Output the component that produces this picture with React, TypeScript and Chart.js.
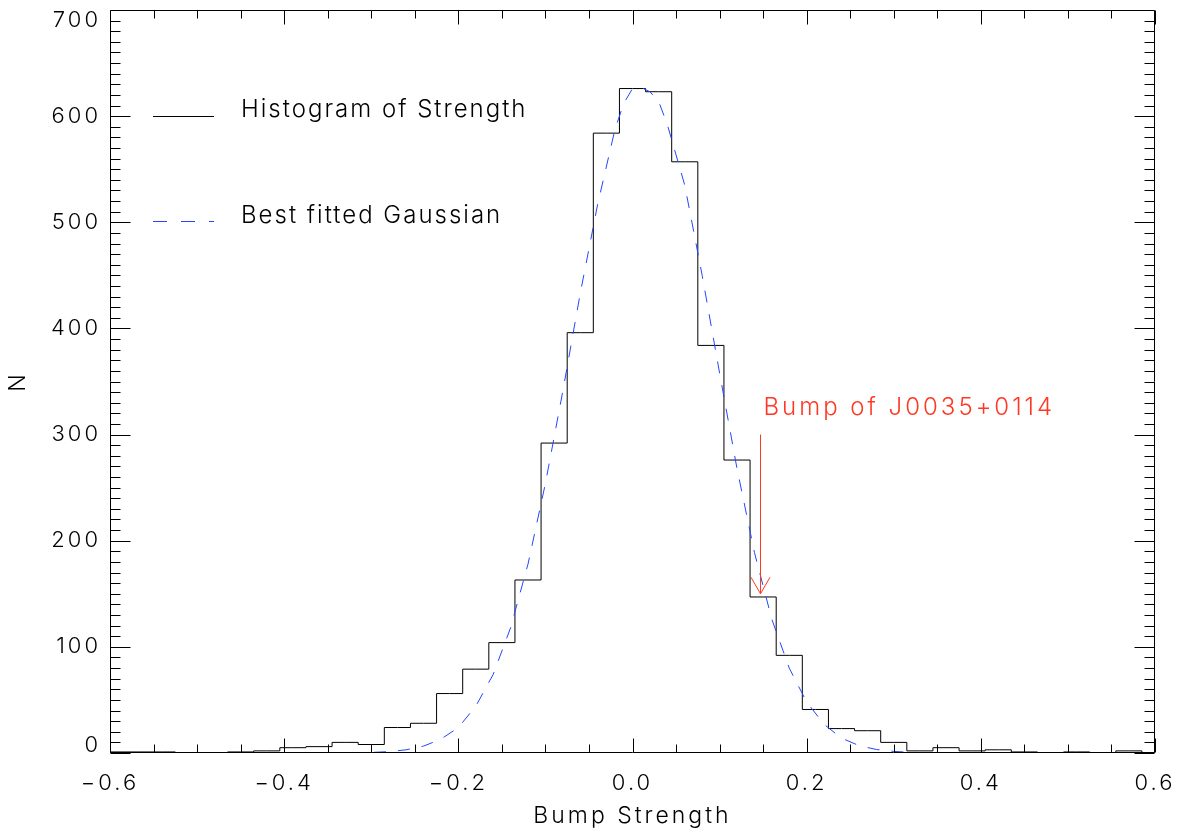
import React, { useEffect, useRef } from 'react';
import { Chart, registerables } from 'chart.js';

Chart.register(...registerables);

// Histogram bin centres (bin width 0.03) and counts
const binCenters = [
  -0.60, -0.57, -0.54, -0.51, -0.48, -0.45, -0.42, -0.39, -0.36, -0.33,
  -0.30, -0.27, -0.24, -0.21, -0.18, -0.15, -0.12, -0.09, -0.06, -0.03,
  0.00, 0.03, 0.06, 0.09, 0.12, 0.15, 0.18, 0.21, 0.24, 0.27,
  0.30, 0.33, 0.36, 0.39, 0.42, 0.45, 0.48, 0.51, 0.54, 0.57, 0.60,
];
const binCounts = [
  1, 1, 1, 0, 0, 1, 2, 5, 6, 10,
  8, 24, 28, 56, 79, 104, 163, 292, 396, 584,
  626, 623, 557, 384, 276, 147, 92, 41, 23, 21,
  10, 2, 5, 2, 3, 1, 0, 1, 0, 2, 0,
];

// Best fitted Gaussian
const gaussX = [
  -0.60, -0.40, -0.32, -0.30, -0.28, -0.26, -0.24, -0.22, -0.20, -0.18,
  -0.16, -0.14, -0.12, -0.10, -0.08, -0.06, -0.04, -0.02, -0.01, 0.00,
  0.01, 0.02, 0.03, 0.04, 0.06, 0.08, 0.10, 0.12, 0.14, 0.16,
  0.18, 0.20, 0.22, 0.24, 0.26, 0.28, 0.30, 0.32, 0.34, 0.40, 0.60,
];
const gaussY = [
  0, 0, 0.3, 0.5, 1.3, 3, 6.5, 13, 24, 44,
  74, 118, 178, 254, 341, 433, 517, 588, 612, 626,
  627, 623, 614, 592, 535, 450, 358, 268, 189, 126,
  80, 48, 27, 14, 7, 3.3, 1.5, 0.6, 0.3, 0, 0,
];

const xTickLabels = ['−0.6', '−0.4', '−0.2', '0.0', '0.2', '0.4', '0.6'];
const yTickValues = [0, 100, 200, 300, 400, 500, 600, 700];
const yTickLabels = ['0', '100', '200', '300', '400', '500', '600', '700'];

const legendLabels = ['Histogram of Strength', 'Best fitted Gaussian'];
const annotationText = 'Bump of J0035+0114';
const annotationX = 0.146;
const annotationYTop = 300;
const annotationYTip = 150;
const xTitle = 'Bump Strength';
const yTitle = 'N';

const FONT_FAMILY = 'Inter, "DejaVu Sans", sans-serif';
const BLUE = 'rgb(35,70,255)';
const RED = 'rgb(255,55,35)';

const overlayPlugin = {
  id: 'overlay',
  beforeDraw(chart: any) {
    (chart.ctx as any).letterSpacing = '3px';
  },
  afterDraw(chart: any) {
    const { ctx, chartArea: a, scales } = chart;
    const x = scales.x;
    const y = scales.y;
    ctx.save();
    (ctx as any).letterSpacing = '3px';
    ctx.strokeStyle = '#000';
    ctx.lineWidth = 1;
    ctx.setLineDash([]);
    const L = Math.round(a.left) + 0.5;
    const R = Math.round(a.right) - 0.5;
    const T = Math.round(a.top) + 0.5;
    const B = Math.round(a.bottom) - 0.5;
    ctx.beginPath();
    ctx.moveTo(L, T);
    ctx.lineTo(R, T);
    ctx.lineTo(R, B);
    ctx.lineTo(L, B);
    ctx.closePath();
    // x ticks (major 0.2, minor 0.05)
    for (let i = -12; i <= 12; i++) {
      const px = Math.round(x.getPixelForValue(i * 0.05)) + 0.5;
      const len = i % 4 === 0 ? 14 : 8;
      ctx.moveTo(px, B);
      ctx.lineTo(px, B - len);
      ctx.moveTo(px, T);
      ctx.lineTo(px, T + len);
    }
    // y ticks (major 100, minor 10)
    for (let i = 0; i <= 70; i++) {
      const py = Math.round(y.getPixelForValue(i * 10)) + 0.5;
      const len = i % 10 === 0 ? 20 : 10;
      ctx.moveTo(L, py);
      ctx.lineTo(L + len, py);
      ctx.moveTo(R, py);
      ctx.lineTo(R - len, py);
    }
    ctx.stroke();

    // y tick labels (end labels kept inside the frame, as in the original)
    ctx.fillStyle = '#000';
    ctx.font = `300 22px ${FONT_FAMILY}`;
    ctx.textAlign = 'right';
    ctx.textBaseline = 'middle';
    yTickValues.forEach((v, i) => {
      const py = Math.min(Math.max(y.getPixelForValue(v), a.top + 10), a.bottom - 8);
      ctx.fillText(yTickLabels[i], a.left - 9, py);
    });

    // legend
    (ctx as any).letterSpacing = '2px';
    ctx.font = `300 24px ${FONT_FAMILY}`;
    ctx.textAlign = 'left';
    ctx.textBaseline = 'alphabetic';
    ctx.beginPath();
    ctx.moveTo(153, 116.5);
    ctx.lineTo(214, 116.5);
    ctx.stroke();
    ctx.fillText(legendLabels[0], 241, 117);
    ctx.strokeStyle = BLUE;
    ctx.setLineDash([14, 14]);
    ctx.beginPath();
    ctx.moveTo(153, 221.5);
    ctx.lineTo(214, 221.5);
    ctx.stroke();
    ctx.setLineDash([]);
    ctx.fillText(legendLabels[1], 241, 223);

    // annotation arrow
    (ctx as any).letterSpacing = '3px';
    const ax = Math.round(x.getPixelForValue(annotationX)) + 0.5;
    const aTop = y.getPixelForValue(annotationYTop);
    const aTip = y.getPixelForValue(annotationYTip);
    ctx.strokeStyle = RED;
    ctx.fillStyle = RED;
    ctx.beginPath();
    ctx.moveTo(ax, aTop);
    ctx.lineTo(ax, aTip);
    ctx.moveTo(ax - 9.5, aTip - 16.5);
    ctx.lineTo(ax, aTip);
    ctx.lineTo(ax + 9.5, aTip - 16.5);
    ctx.stroke();
    ctx.fillText(annotationText, ax + 3, aTop - 20);

    // axis titles
    ctx.fillStyle = '#000';
    ctx.font = `300 23px ${FONT_FAMILY}`;
    ctx.textAlign = 'center';
    ctx.fillText(xTitle, (a.left + a.right) / 2, 823);
    ctx.translate(25, (a.top + a.bottom) / 2);
    ctx.rotate(-Math.PI / 2);
    ctx.fillText(yTitle, 0, 0);
    ctx.restore();
  },
};

export default function App() {
  const canvasRef = useRef<HTMLCanvasElement | null>(null);

  useEffect(() => {
    const canvas = canvasRef.current;
    if (!canvas) return;
    const chart = new Chart(canvas, {
      type: 'line',
      data: {
        datasets: [
          {
            label: legendLabels[1],
            data: gaussX.map((v, i) => ({ x: v, y: gaussY[i] })),
            borderColor: BLUE,
            borderWidth: 1,
            borderDash: [12, 12],
            pointRadius: 0,
            tension: 0,
            fill: false,
          },
          {
            label: legendLabels[0],
            data: binCenters.map((v, i) => ({ x: v, y: binCounts[i] })),
            borderColor: '#000',
            borderWidth: 1,
            stepped: 'middle',
            pointRadius: 0,
            fill: false,
          },
        ],
      },
      options: {
        responsive: false,
        animation: false,
        events: [],
        layout: { padding: { top: 10, right: 36, left: 0, bottom: 0 } },
        plugins: {
          legend: { display: false },
          tooltip: { enabled: false },
          title: { display: false },
        },
        scales: {
          x: {
            type: 'linear',
            min: -0.6,
            max: 0.6,
            grid: { display: false, drawTicks: false },
            border: { display: false },
            ticks: {
              stepSize: 0.2,
              padding: 17,
              color: '#000',
              font: { family: FONT_FAMILY, size: 22, weight: '300' as any },
              maxRotation: 0,
              autoSkip: false,
              callback: (_v: any, i: number) => xTickLabels[i],
            },
            afterFit: (s: any) => {
              s.height = 83;
              s.paddingLeft = 0;
              s.paddingRight = 0;
              s.paddingTop = 0;
              s.paddingBottom = 0;
            },
          },
          y: {
            type: 'linear',
            min: 0,
            max: 700,
            grid: { display: false, drawTicks: false },
            border: { display: false },
            ticks: {
              display: false,
              stepSize: 100,
              autoSkip: false,
            },
            afterFit: (s: any) => {
              s.width = 110;
              s.paddingLeft = 0;
              s.paddingRight = 0;
              s.paddingTop = 0;
              s.paddingBottom = 0;
            },
          },
        },
      },
      plugins: [overlayPlugin],
    } as any);
    return () => chart.destroy();
  }, []);

  return (
    <div style={{ position: 'absolute', left: 0, top: 0, width: 1191, height: 836, background: '#fff' }}>
      <canvas ref={canvasRef} width={1191} height={836} style={{ display: 'block' }} />
    </div>
  );
}
